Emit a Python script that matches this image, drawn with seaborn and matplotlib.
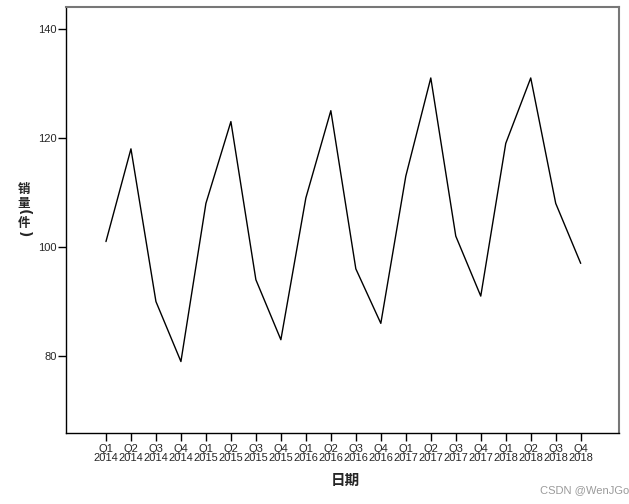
import matplotlib
matplotlib.use("Agg")
import matplotlib.pyplot as plt
import seaborn as sns
import pandas as pd

quarters = ["Q1", "Q2", "Q3", "Q4"]
years = [2014, 2015, 2016, 2017, 2018]
labels = [f"{q}\n{y}" for y in years for q in quarters]
sales = [101, 118, 90, 79,
         108, 123, 94, 83,
         109, 125, 96, 86,
         113, 131, 102, 91,
         119, 131, 108, 97]
y_ticks = [80, 100, 120, 140]

df = pd.DataFrame({"日期": labels, "销量": sales})

sns.set_style("white")
plt.rcParams['font.family'] = ['Liberation Sans', 'Noto Sans CJK SC', 'DejaVu Sans']
cjk = ['Noto Sans CJK SC', 'DejaVu Sans']

fig = plt.figure(figsize=(6.29, 5.04), dpi=100)
ax = fig.add_axes([0.1057, 0.1409, 0.8783, 0.8451])

sns.lineplot(data=df, x="日期", y="销量", color="black", linewidth=1.0, ax=ax, sort=False)

ax.set_xlim(-1.58, 20.53)
ax.set_ylim(65.9, 144)
ax.set_yticks(y_ticks)
ax.set_xticks(range(len(labels)))
ax.set_xticklabels(labels, fontsize=8, linespacing=0.85)
ax.tick_params(axis="y", labelsize=8, length=6, width=1, direction="out", left=True, color="black", pad=1)
ax.tick_params(axis="x", length=6, width=1, direction="out", bottom=True, color="black", pad=2)

for side in ["left", "bottom"]:
    ax.spines[side].set_color("black")
    ax.spines[side].set_linewidth(1)
for side in ["top", "right"]:
    ax.spines[side].set_color("#777777")
    ax.spines[side].set_linewidth(1.5)

ax.set_xlabel("")
ax.set_ylabel("")
fig.text(345 / 629, 1 - 480 / 504, "日期", fontsize=10.5, ha="center", va="center",
         family=cjk, fontweight="bold")

# vertical y label: characters upright, brackets turned
x0 = 24 / 629
for ch, ypx in [("销", 190), ("量", 203), ("件", 223)]:
    fig.text(x0, 1 - ypx / 504, ch, fontsize=9, ha="center", va="center",
             family=cjk, fontweight="bold")
for ch, ypx in [("(", 212), (")", 234)]:
    fig.text(x0, 1 - ypx / 504, ch, fontsize=10, ha="center", va="center",
             family="DejaVu Sans", fontweight="bold", rotation=-90)

fig.text(585 / 629, 1 - 490 / 504, "CSDN @WenJGo", fontsize=8, ha="center", va="center",
         color="#9a9a9a")

fig.savefig("out.png", dpi=100)
